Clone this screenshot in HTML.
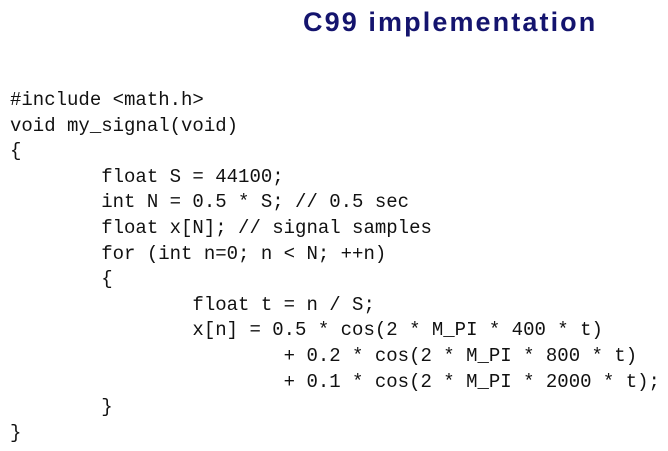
<!DOCTYPE html>
<html><head><meta charset="utf-8"><style>
body{margin:0;width:668px;height:451px;background:#fff;overflow:hidden;position:relative}
#title{position:absolute;left:303px;top:7px;font:bold 27px "Liberation Sans",sans-serif;letter-spacing:2.1px;color:#14146e;white-space:nowrap}
pre{position:absolute;left:10px;top:88px;margin:0;font:19px/25.6px "Liberation Mono",monospace;color:#111}
</style></head><body>
<div id="title">C99 implementation</div>
<pre>#include &lt;math.h&gt;
void my_signal(void)
{
        float S = 44100;
        int N = 0.5 * S; // 0.5 sec
        float x[N]; // signal samples
        for (int n=0; n &lt; N; ++n)
        {
                float t = n / S;
                x[n] = 0.5 * cos(2 * M_PI * 400 * t)
                        + 0.2 * cos(2 * M_PI * 800 * t)
                        + 0.1 * cos(2 * M_PI * 2000 * t);
        }
}</pre>
</body></html>
